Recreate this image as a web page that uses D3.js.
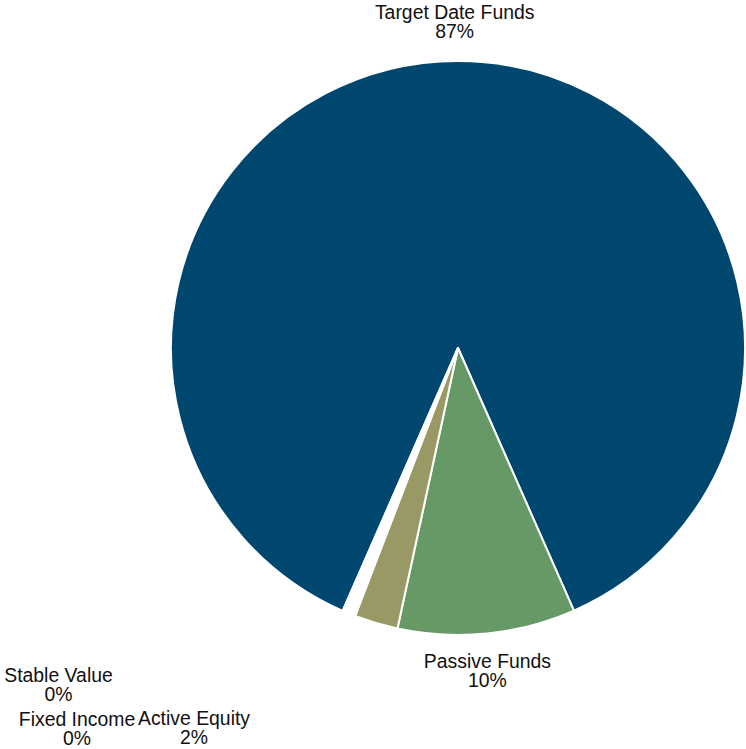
<!DOCTYPE html>
<html><head><meta charset="utf-8">
<script src="https://cdn.jsdelivr.net/npm/d3@7"></script>
<style>body{margin:0;background:#fff}svg{display:block}text{font-family:"Liberation Sans",Arial,sans-serif;font-size:19.4px;fill:#111}</style>
</head><body><svg id="c" width="746" height="749"></svg>
<script>
const categories = ["Target Date Funds","Passive Funds","Active Equity","Fixed Income","Stable Value"];
const values = [86.8, 10.0, 2.45, 0.38, 0.37];
const labels = ["87%","10%","2%","0%","0%"];
const colors = ["#00476f","#669966","#999966","#ffffff","#ffffff"];

const W=746,H=749, cx=458, cy=348, R=287;
const svg=d3.select("#c");
const g=svg.append("g").attr("transform",`translate(${cx},${cy})`);
const start=-156.3*Math.PI/180;
const pie=d3.pie().sort(null).value(d=>d.v).startAngle(start).endAngle(start+2*Math.PI);
const data=categories.map((c,i)=>({c,v:values[i],l:labels[i],col:colors[i]}));
const arcs=pie(data);
const arc=d3.arc().innerRadius(0).outerRadius(R);
g.selectAll("path").data(arcs).join("path").attr("d",arc).attr("fill",d=>d.data.col)
 .attr("stroke","#fff").attr("stroke-width",2).attr("stroke-linejoin","round");

// label anchor overrides for crowded small slices (layout only)
const labelOverride={"Active Equity":[194-cx,725-cy],"Fixed Income":[77-cx,726-cy],"Stable Value":[58.5-cx,682-cy]};
const lr=R+33;
arcs.forEach(a=>{
  let x,y;
  if(labelOverride[a.data.c]){[x,y]=labelOverride[a.data.c];}
  else{const m=(a.startAngle+a.endAngle)/2; x=Math.sin(m)*lr-3; y=-Math.cos(m)*lr-9;
    if(Math.cos(m)<0) y+=Math.abs(Math.cos(m))*(320-lr)+11; }
  const t=g.append("text").attr("text-anchor","middle").attr("x",x).attr("y",y);
  t.append("tspan").attr("x",x).text(a.data.c);
  t.append("tspan").attr("x",x).attr("dy",18.5).text(a.data.l);
});
</script></body></html>
